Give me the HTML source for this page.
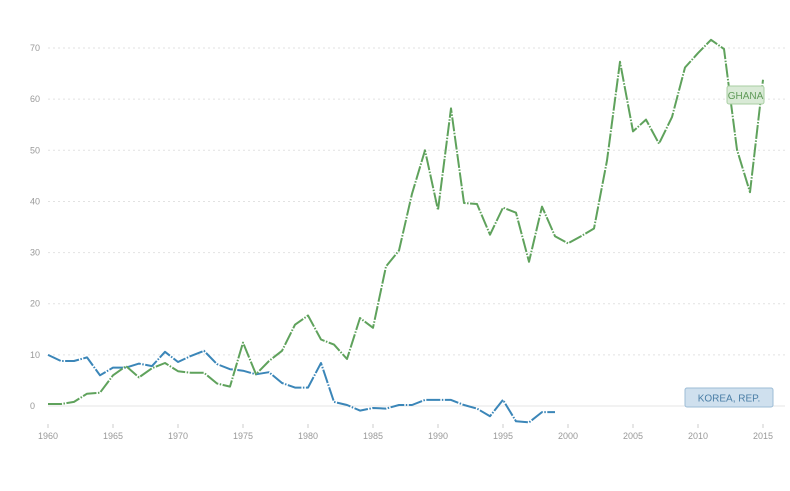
<!DOCTYPE html>
<html><head><meta charset="utf-8"><style>
body{margin:0;background:#fff;font-family:"Liberation Sans",sans-serif}
svg text{font-family:"Liberation Sans",sans-serif}
</style></head><body>
<svg id="chart" width="790" height="486" viewBox="0 0 790 486" xmlns="http://www.w3.org/2000/svg">
<g id="grid"></g>
<g id="xaxis"></g>
<g id="yaxis"></g>
<g id="series"></g>
<g>
<rect x="727" y="86" width="37" height="18" rx="2" fill="#d9ead6" stroke="#a9cfa3"/>
<text x="745.5" y="99" font-size="10" fill="#5f9a58" text-anchor="middle">GHANA</text>
</g>
<g>
<rect x="685" y="388" width="88" height="19" rx="2" fill="#cfe0ee" stroke="#9cbcd6"/>
<text x="729" y="401.5" font-size="10" fill="#4a7ea6" text-anchor="middle">KOREA, REP.</text>
</g>
</svg>
<script>
const years = [];
for (let y = 1960; y <= 2015; y++) years.push(y);
const ghana = [0.4,0.4,0.8,2.4,2.6,6,7.8,5.6,7.4,8.4,6.8,6.5,6.5,4.4,3.8,12.4,6.2,8.8,10.8,15.9,17.7,13,12,9.2,17.2,15.3,27.3,30.4,41.5,50,38.3,58.2,39.7,39.5,33.5,38.8,37.8,28.2,39,33.2,31.8,33.2,34.7,48,67.3,53.7,56,51.3,56.5,66.2,69,71.6,69.8,50.1,41.8,63.8];
const korea = [10,8.8,8.8,9.5,6,7.5,7.5,8.3,7.8,10.6,8.6,9.8,10.8,8.2,7.2,6.9,6.2,6.6,4.5,3.6,3.6,8.4,0.8,0.2,-0.9,-0.4,-0.5,0.2,0.2,1.2,1.2,1.2,0.2,-0.5,-2,1.2,-3,-3.2,-1.2,-1.2];
const yTicks = [0,10,20,30,40,50,60,70];
const xTicks = [1960,1965,1970,1975,1980,1985,1990,1995,2000,2005,2010,2015];

const NS = "http://www.w3.org/2000/svg";
const xs = yr => 48 + (yr - 1960) * 13;
const ys = v => 406 - v * 5.114;
function mk(tag, attrs, parent){const e=document.createElementNS(NS,tag);for(const k in attrs)e.setAttribute(k,attrs[k]);parent.appendChild(e);return e;}
const grid=document.getElementById('grid'), xa=document.getElementById('xaxis'), ya=document.getElementById('yaxis'), se=document.getElementById('series');
yTicks.forEach(t=>{
  const l=mk('line',{x1:48,x2:785,y1:ys(t),y2:ys(t),stroke:t===0?'#e6e6e6':'#e2e2e2','stroke-width':1,'stroke-dasharray':t===0?'none':'2,3'},grid);
  
  
  const tx=mk('text',{x:30,y:ys(t)+3,'font-size':9,fill:'#999','text-anchor':'start'},ya);
  tx.textContent=t;
  
  
});
xTicks.forEach(t=>{
  const l=mk('line',{x1:xs(t),x2:xs(t),y1:424,y2:428,stroke:'#ccc'},xa);
  
  
  const tx=mk('text',{x:xs(t),y:439,'font-size':9,fill:'#999','text-anchor':'middle'},xa);
  tx.textContent=t;
  
  
});
function line(data,color,name){
  const d=data.map((v,i)=>(i?'L':'M')+xs(years[i]).toFixed(1)+','+ys(v).toFixed(1)).join(' ');
  const p=mk('path',{d:d,fill:'none',stroke:color,'stroke-width':2,'stroke-dasharray':'14,1.5,1.5,1.5','stroke-linejoin':'round'},se);
  
  
}
line(korea,'#3b86b8','korea-line');
line(ghana,'#5fa25c','ghana-line');
</script>
</body></html>
